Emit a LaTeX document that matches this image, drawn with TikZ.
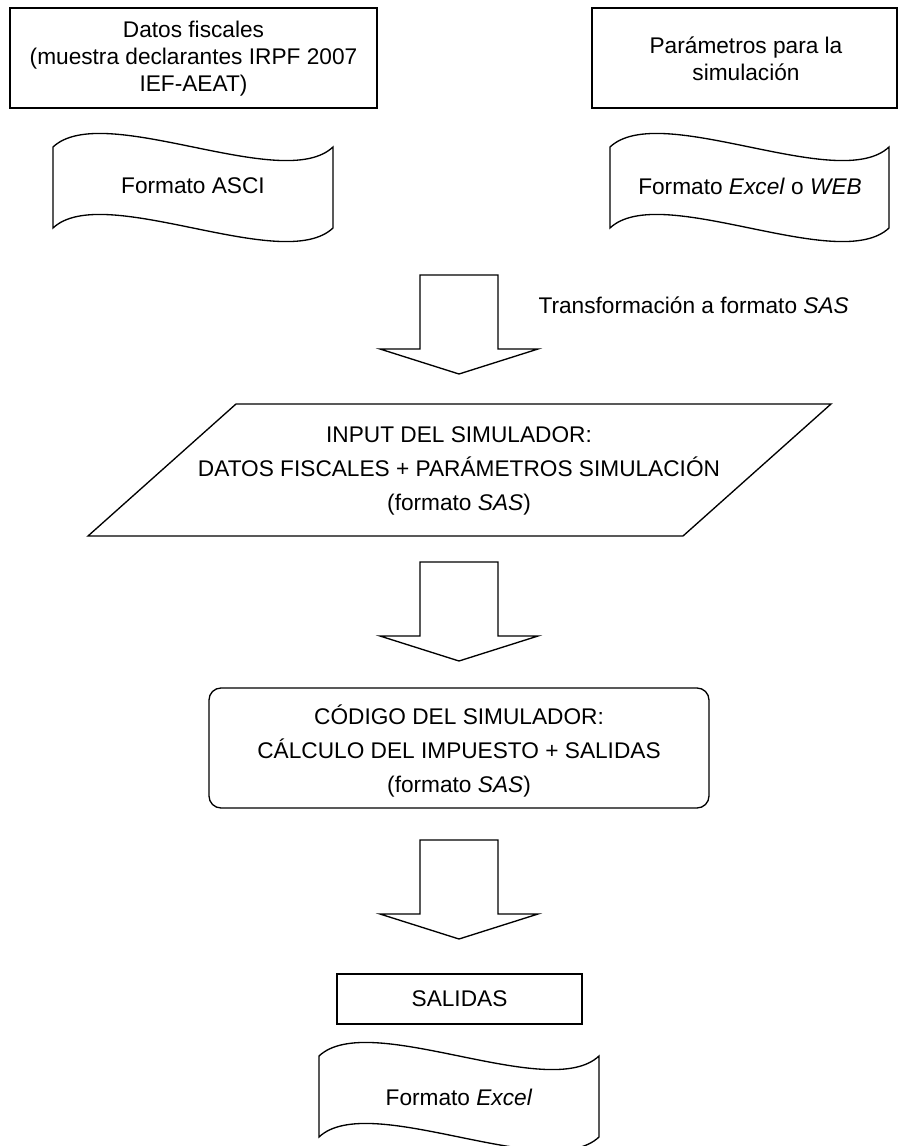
\documentclass[tikz,border=0pt]{standalone}
\usepackage{fontspec}
\setmainfont{Liberation Sans}
\usepackage{tikz}
\tikzset{every picture/.style={line width=0.75pt}}
\tikzset{
  framebox/.style={line width=1.5pt},
  flowline/.style={line width=1pt},
  label/.style={inner sep=0.75pt, align=center, font=\fontsize{17}{20.25}\selectfont},
  biglabel/.style={inner sep=0.75pt, align=center, font=\fontsize{17}{25.5}\selectfont}
}

\begin{document}
\begin{tikzpicture}[x=0.75pt,y=0.75pt,yscale=-1,xscale=1]
\useasboundingbox (0,0) rectangle (898,1146);

%Shape: Rectangle [datos]
\draw [framebox] (10,8) -- (377,8) -- (377,108) -- (10,108) -- cycle ;
%Shape: Rectangle [param]
\draw [framebox] (592,8) -- (897,8) -- (897,108) -- (592,108) -- cycle ;
%Shape: Punched Tape [ascii]
\draw [flowline] (53,147) .. controls (103,100) and (283,194) .. (333,147) -- (333,228) .. controls (283,275) and (103,181) .. (53,228) -- cycle ;
%Shape: Punched Tape [excelweb]
\draw [flowline] (610,147) .. controls (660,100) and (839,194) .. (889,147) -- (889,228) .. controls (839,275) and (660,181) .. (610,228) -- cycle ;

% Arrow points
\coordinate (t1) at (459,275) ;
\coordinate (h1) at (459,374) ;
\coordinate (t2) at (459,562) ;
\coordinate (h2) at (459,661) ;
\coordinate (t3) at (459,840) ;
\coordinate (h3) at (459,939) ;

%Block Arrow [t1 -> h1]
\draw [flowline] (t1) ++(-39,0) -- ++(0,74) -- ++(-40,0) -- (h1) -- ++(79,-25) -- ++(-40,0) -- ++(0,-74) -- cycle ;
%Shape: Parallelogram [input]
\draw [flowline] (236,404) -- (831,404) -- (683,536) -- (88,536) -- cycle ;
%Block Arrow [t2 -> h2]
\draw [flowline] (t2) ++(-39,0) -- ++(0,74) -- ++(-40,0) -- (h2) -- ++(79,-25) -- ++(-40,0) -- ++(0,-74) -- cycle ;
%Shape: Rounded Rectangle [codigo]
\draw [flowline, rounded corners=9] (209,688) -- (709,688) -- (709,808) -- (209,808) -- cycle ;
%Block Arrow [t3 -> h3]
\draw [flowline] (t3) ++(-39,0) -- ++(0,74) -- ++(-40,0) -- (h3) -- ++(79,-25) -- ++(-40,0) -- ++(0,-74) -- cycle ;
%Shape: Rectangle [salidas]
\draw [framebox] (337,974) -- (582,974) -- (582,1024) -- (337,1024) -- cycle ;
%Shape: Punched Tape [excel]
\draw [flowline] (319,1056) .. controls (369,1009) and (549,1103) .. (599,1056) -- (599,1137) .. controls (549,1184) and (369,1090) .. (319,1137) -- cycle ;

% Text Node
\node [label] (datos) at (193.5,59) {Datos fiscales\\(muestra declarantes IRPF 2007\\IEF-AEAT)};
% Text Node
\node [label] (param) at (746,58.5) {Parámetros para la\\simulación};
% Text Node
\node [label] (ascii) at (193,186) {Formato ASCI};
% Text Node
\node [label] (excelweb) at (750,186) {Formato \textit{Excel} o \textit{WEB}};
% Text Node
\node [label, anchor=west] (transf) at (537,305) {Transformación a formato \textit{SAS}};
% Text Node
\node [biglabel] (input) at (459,471) {INPUT DEL SIMULADOR:\\DATOS FISCALES + PARÁMETROS SIMULACIÓN\\(formato \textit{SAS})};
% Text Node
\node [biglabel] (codigo) at (459,751) {CÓDIGO DEL SIMULADOR:\\CÁLCULO DEL IMPUESTO + SALIDAS\\(formato \textit{SAS})};
% Text Node
\node [label] (salidas) at (459.5,999) {SALIDAS};
% Text Node
\node [label] (excel) at (459,1097) {Formato \textit{Excel}};
\end{tikzpicture}
\end{document}
